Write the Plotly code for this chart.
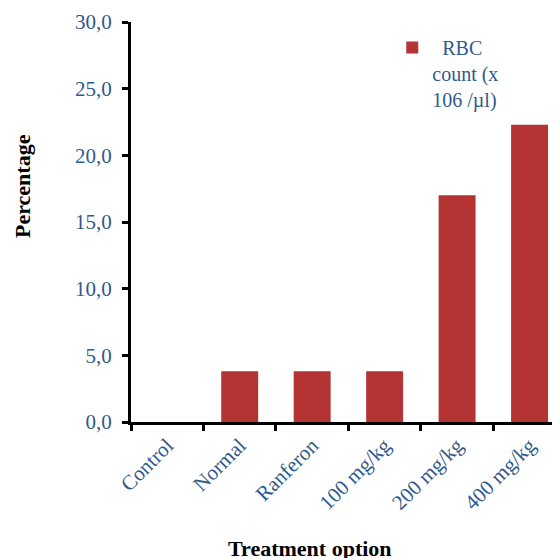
import plotly.graph_objects as go

categories = ["Control", "Normal", "Ranferon", "100 mg/kg", "200 mg/kg", "400 mg/kg"]
rbc_values = [0.0, 3.8, 3.8, 3.8, 17.0, 22.3]
series_name = "\u00a0\u00a0RBC<br>count (x<br>106 /µl)"
y_ticks = [0, 5, 10, 15, 20, 25, 30]
x_title = "Treatment option"
y_title = "Percentage"

blue = "#2F5A8C"
font_family = "Liberation Serif, Times New Roman, serif"

fig = go.Figure()
fig.add_trace(go.Bar(
    x=categories, y=rbc_values, name=series_name,
    marker=dict(color="#B33432", line=dict(width=0)),
    width=0.51,
))

# page body has an 8px margin, so the figure is 552x550 and offset by 8px
fig.update_layout(
    width=552, height=550,
    margin=dict(l=123, r=0, t=14, b=136),
    plot_bgcolor="white", paper_bgcolor="white",
    separators=",.",
    font=dict(family=font_family, color=blue, size=20),
    showlegend=True,
    legend=dict(x=0.609, y=0.985, xanchor="left", yanchor="top", valign="top",
                font=dict(family=font_family, size=20, color=blue),
                bgcolor="rgba(0,0,0,0)", itemwidth=30),
    annotations=[
        dict(text="<b>" + x_title + "</b>", xref="paper", yref="paper", x=0.417, y=-0.315,
             xanchor="center", yanchor="middle", showarrow=False,
             font=dict(family=font_family, size=22, color="black")),
        dict(text="<b>" + y_title + "</b>", xref="paper", yref="paper", x=-0.254, y=0.59,
             xanchor="center", yanchor="middle", showarrow=False, textangle=-90,
             font=dict(family=font_family, size=22, color="black")),
    ],
)
fig.update_xaxes(
    range=[-0.5, 5.42], automargin=False,
    showline=True, linecolor="black", linewidth=3,
    ticks="outside", tickson="boundaries", ticklen=6, tickwidth=3, tickcolor="black",
    tickangle=-45, tickfont=dict(family=font_family, size=21, color=blue),
)
fig.update_yaxes(
    range=[0, 30], tickvals=y_ticks, tickformat=".1f", automargin=False,
    showline=True, linecolor="black", linewidth=3,
    ticks="outside", ticklen=6, tickwidth=3, tickcolor="black",
    showgrid=False, zeroline=False, ticklabelstandoff=6,
    tickfont=dict(family=font_family, size=21, color=blue),
)

fig.write_html("out.html")
